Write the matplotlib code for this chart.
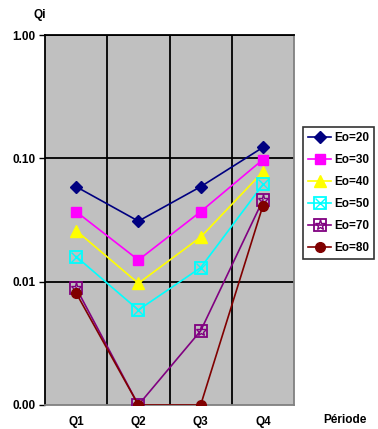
import matplotlib
matplotlib.use("Agg")
import matplotlib.pyplot as plt
import numpy as np
from matplotlib.legend_handler import HandlerTuple

plt.rcParams['font.family'] = ['Liberation Sans', 'DejaVu Sans']
plt.rcParams['font.weight'] = 'bold'

periodes = ["Q1", "Q2", "Q3", "Q4"]
eo_20 = [0.059, 0.031, 0.059, 0.123]
eo_30 = [0.037, 0.015, 0.037, 0.098]
eo_40 = [0.026, 0.0097, 0.023, 0.078]
eo_50 = [0.016, 0.0059, 0.013, 0.0615]
eo_70 = [0.0089, 0.001, 0.004, 0.046]
eo_80 = [0.0081, 0.001, 0.001, 0.0415]
y_ticks = [0.001, 0.01, 0.1, 1.0]
y_labels = ["0.00", "0.01", "0.10", "1.00"]

x = np.arange(len(periodes))

fig = plt.figure(figsize=(3.78, 4.29), dpi=100)
ax = fig.add_axes([0.119, 0.056, 0.659, 0.862])
ax.set_facecolor("#c0c0c0")
ax.set_yscale("log")
ax.set_ylim(0.001, 1.0)
ax.set_xlim(-0.5, 3.5)

# grille : traits verticaux entre les trimestres, horizontaux par décade
for xv in [0.5, 1.5, 2.5]:
    ax.axvline(xv, color="black", lw=1.3, zorder=1)
for yv in [0.01, 0.1, 1.0]:
    ax.axhline(yv, color="black", lw=1.3, zorder=1)

handles = []
l20, = ax.plot(x, eo_20, color="#000080", marker="D", ms=6, lw=1.2, zorder=3)
handles.append(l20)
l30, = ax.plot(x, eo_30, color="#ff00ff", marker="s", ms=7, lw=1.2, zorder=3)
handles.append(l30)
l40, = ax.plot(x, eo_40, color="#ffff00", marker="^", ms=8, lw=1.2, zorder=3)
handles.append(l40)
l50, = ax.plot(x, eo_50, color="#00ffff", marker="s", ms=9, mfc="none", mew=1.3, lw=1.2, zorder=3)
l50x, = ax.plot(x, eo_50, color="#00ffff", marker="x", ms=7, mew=1.0, lw=0, zorder=3)
handles.append((l50, l50x))
l70, = ax.plot(x, eo_70, color="#800080", marker="s", ms=9, mfc="none", mew=1.3, lw=1.2, zorder=3)
l70x, = ax.plot(x, eo_70, color="#800080", marker="*", ms=8, mfc="none", mew=1.0, lw=0, zorder=3)
handles.append((l70, l70x))
l80, = ax.plot(x, eo_80, color="#800000", marker="o", ms=7, lw=1.2, zorder=3)
handles.append(l80)

ax.set_xticks(x)
ax.set_xticklabels(periodes, fontsize=8.5, fontweight="bold")
ax.tick_params(axis="x", length=0, pad=8)
ax.set_yticks(y_ticks)
ax.set_yticklabels(y_labels, fontsize=8.5, fontweight="bold")
ax.yaxis.set_minor_locator(matplotlib.ticker.NullLocator())
ax.tick_params(axis="y", length=4, width=1, direction="out", pad=3)

for side in ["top", "left"]:
    ax.spines[side].set_color("black")
    ax.spines[side].set_linewidth(1.3)
for side in ["right", "bottom"]:
    ax.spines[side].set_color("#808080")
    ax.spines[side].set_linewidth(1.3)

fig.text(0.105, 0.965, "Qi", fontsize=8.5, fontweight="bold", ha="center", va="center")
fig.text(0.912, 0.006, "Période", fontsize=8.5, fontweight="bold", ha="center", va="bottom")

leg = fig.legend(handles, ["Eo=20", "Eo=30", "Eo=40", "Eo=50", "Eo=70", "Eo=80"],
                 handler_map={tuple: HandlerTuple(ndivide=1, pad=0)},
                 loc="upper left", bbox_to_anchor=(0.802, 0.705),
                 fontsize=8.5, frameon=True, fancybox=False, edgecolor="black",
                 handlelength=1.9, handletextpad=0.25, labelspacing=0.85,
                 borderpad=0.45, borderaxespad=0)
leg.get_frame().set_linewidth(1.2)

fig.savefig("out.png", dpi=100)
